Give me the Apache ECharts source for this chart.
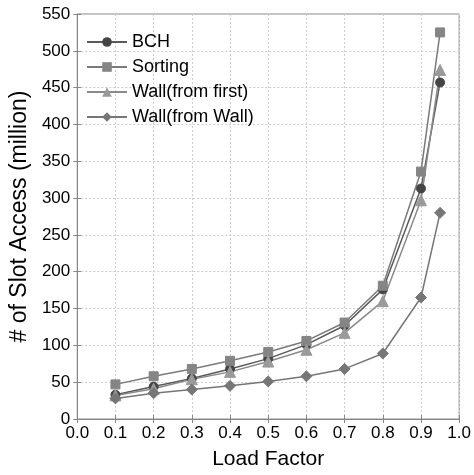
<!DOCTYPE html>
<html>
<head>
<meta charset="utf-8">
<script src="https://cdn.jsdelivr.net/npm/echarts@6/dist/echarts.min.js"></script>
<style>html,body{margin:0;padding:0;background:#fff;}#c{width:474px;height:475px;}</style>
</head>
<body>
<div id="c"></div>
<script>
const loadFactors = [0.1, 0.2, 0.3, 0.4, 0.5, 0.6, 0.7, 0.8, 0.9, 0.95];
const bch = [33, 44, 55, 68, 82, 101, 127, 176, 313, 457];
const sorting = [47, 58, 68, 79, 91, 106, 131, 181, 336, 525];
const wallFirst = [32, 41, 54, 64, 78, 94, 117, 160, 297, 474];
const wallWall = [28, 35, 40, 45, 51, 58, 68, 89, 165, 280];
const seriesNames = ['BCH', 'Sorting', 'Wall(from first)', 'Wall(from Wall)'];

const FONT = '"Liberation Sans", Arial, sans-serif';
const pairs = arr => arr.map((v, i) => [loadFactors[i], v]);

function mkSeries(name, data, symbol, size, mColor, lColor) {
  return {
    name, type: 'line', data: pairs(data), symbol, symbolSize: size,
    itemStyle: { color: mColor, borderColor: mColor },
    lineStyle: { color: lColor, width: 1.5 },
    emphasis: { disabled: true }, z: 3
  };
}

const chart = echarts.init(document.getElementById('c'), null, { renderer: 'canvas' });
const gridStyle = { show: true, lineStyle: { color: '#cccccc', type: [2, 2], width: 1 } };
chart.setOption({
  animation: false,
  backgroundColor: '#fff',
  textStyle: { fontFamily: FONT },
  grid: { left: 71, right: 14, top: 14, bottom: 54, show: true, borderColor: '#888', borderWidth: 1, backgroundColor: 'transparent' },
  legend: {
    left: 86, top: 32, orient: 'vertical', padding: 0,
    itemWidth: 40, itemHeight: 12, itemGap: 5,
    textStyle: { fontFamily: FONT, fontSize: 18, color: '#000', lineHeight: 20 },
    data: seriesNames
  },
  xAxis: [{
    type: 'value', min: 0, max: 1, interval: 0.1,
    name: 'Load Factor', nameLocation: 'middle', nameGap: 30,
    nameTextStyle: { fontFamily: FONT, fontSize: 21, color: '#000' },
    axisLine: { show: true, lineStyle: { color: '#888' } },
    axisTick: { show: true, inside: true, length: 4, lineStyle: { color: '#888' } },
    axisLabel: { fontFamily: FONT, fontSize: 17, color: '#000', margin: 6, formatter: v => v.toFixed(1) },
    splitLine: gridStyle
  }, {
    type: 'value', min: 0, max: 1, interval: 0.1, position: 'top',
    axisLine: { show: false }, axisTick: { show: true, inside: true, length: 4, lineStyle: { color: '#888' } },
    axisLabel: { show: false }, splitLine: { show: false }
  }],
  yAxis: [{
    type: 'value', min: 0, max: 550, interval: 50,
    name: '# of Slot Access (million)', nameLocation: 'middle', nameGap: 42,
    nameTextStyle: { fontFamily: FONT, fontSize: 23, color: '#000' },
    axisLine: { show: true, lineStyle: { color: '#888' } },
    axisTick: { show: true, inside: true, length: 4, lineStyle: { color: '#888' } },
    axisLabel: { fontFamily: FONT, fontSize: 17, color: '#000', margin: 7 },
    splitLine: gridStyle
  }, {
    type: 'value', min: 0, max: 550, interval: 50, position: 'right',
    axisLine: { show: false }, axisTick: { show: true, inside: true, length: 4, lineStyle: { color: '#888' } },
    axisLabel: { show: false }, splitLine: { show: false }
  }],
  series: [
    mkSeries(seriesNames[0], bch, 'circle', 9, '#454545', '#5a5a5a'),
    mkSeries(seriesNames[1], sorting, 'rect', 9, '#858585', '#7a7a7a'),
    mkSeries(seriesNames[2], wallFirst, 'triangle', 11, '#9a9a9a', '#8a8a8a'),
    mkSeries(seriesNames[3], wallWall, 'diamond', 11, '#767676', '#767676')
  ]
});
</script>
</body>
</html>
